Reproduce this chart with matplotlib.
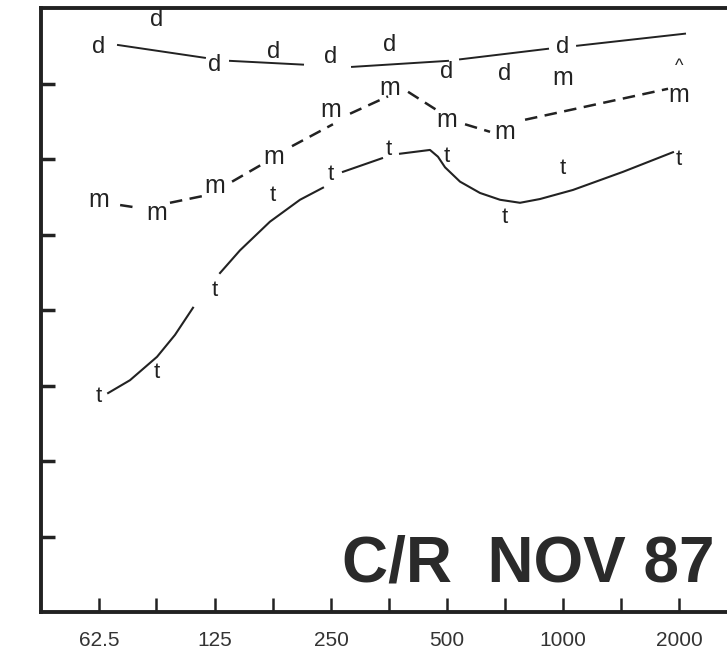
import numpy as np
import matplotlib
matplotlib.use('Agg')
import matplotlib.pyplot as plt
from matplotlib.ticker import NullFormatter

plt.rcParams['font.family'] = ['Liberation Sans', 'DejaVu Sans']

# 频率 (Hz) —— 字母标记所在的位置
freqs = [62.5, 88, 125, 177, 250, 354, 500, 707, 1000, 2000]
d_vals = [7.48, 7.84, 7.25, 7.42, 7.35, 7.51, 7.15, 7.13, 7.48]
m_vals = [5.46, 5.28, 5.64, 6.03, 6.65, 6.94, 6.52, 6.36, 7.07, 6.85]
t_vals = [2.86, 3.17, 4.26, 5.51, 5.79, 6.12, 6.03, 5.23, 5.88, 5.99]
caret_pos = (2000, 7.22)

# 手绘连线 (None 表示断开)
d_line_x = [70.0, 117.7, None, 136.7, 211.5, None, 283.4, 502.9, None, 540.4, 914.4, None, 1087.5, 2073]
d_line_y = [7.51, 7.34, None, 7.30, 7.25, None, 7.22, 7.30, None, 7.32, 7.46, None, 7.50, 7.66]

m_line_x = [70.9, 77.5, None, 95.5, 116.3, None, 138.4, 169.6, None, 198.0, 252.9, None,
            280.1, 351.4, None, 396.1, 479.6, None, 556.8, 646.6, None, 797, 1873]
m_line_y = [5.39, 5.36, None, 5.42, 5.51, None, 5.70, 5.96, None, 6.17, 6.46, None,
            6.60, 6.83, None, 6.89, 6.62, None, 6.46, 6.36, None, 6.52, 6.93]

t_line_x = [66.0, 75.2, 88.4, 98.4, 109.6, None, 128.8, 145.1, 173.6, 207.7, 238.3, None,
            268.5, 339.1, None, 377.6, 451.6, 473.7, 494.1, 540.4, 609.0, 686.3, 773.4,
            871.6, 1061, 1431, 1929]
t_line_y = [2.90, 3.07, 3.38, 3.67, 4.03, None, 4.49, 4.79, 5.17, 5.46, 5.62, None,
            5.83, 6.01, None, 6.07, 6.12, 6.03, 5.89, 5.70, 5.55, 5.46, 5.42,
            5.47, 5.59, 5.83, 6.09]

major_ticks = [62.5, 125, 250, 500, 1000, 2000]
major_labels = ['62.5', '125', '250', '500', '1000', '2000']
minor_ticks = [88, 177, 354, 707, 1414]
y_ticks = [1, 2, 3, 4, 5, 6, 7]

title = 'C/R  NOV 87'

ink = '#222222'


def to_arr(v):
    return np.array([np.nan if a is None else a for a in v], dtype=float)


fig = plt.figure(figsize=(7.27, 6.52), dpi=100)
ax = fig.add_axes([41 / 727, 40 / 652, 686 / 727, 604 / 652])
ax.set_xscale('log', base=2)
ax.set_xlim(44.19, 2664)
ax.set_ylim(0, 8)

ax.plot(to_arr(d_line_x), to_arr(d_line_y), color=ink, lw=1.4)
ax.plot(to_arr(m_line_x), to_arr(m_line_y), color=ink, lw=1.8, dashes=(5, 3))
ax.plot(to_arr(t_line_x), to_arr(t_line_y), color=ink, lw=1.5)

for f, v in zip(freqs, d_vals):
    ax.text(f, v, 'd', ha='center', va='center', fontsize=17, color=ink)
for f, v in zip(freqs, m_vals):
    ax.text(f, v, 'm', ha='center', va='center', fontsize=18, color=ink)
for f, v in zip(freqs, t_vals):
    ax.text(f, v, 't', ha='center', va='center', fontsize=16, color=ink)
ax.text(caret_pos[0], caret_pos[1], '^', ha='center', va='center', fontsize=13, color=ink)

ax.text(0.982, 0.078, title, transform=ax.transAxes, ha='right', va='center',
        fontsize=46, fontweight='bold', color='#2a2a2a')

ax.set_xticks(major_ticks)
ax.set_xticklabels(major_labels)
ax.set_xticks(minor_ticks, minor=True)
ax.xaxis.set_minor_formatter(NullFormatter())
ax.set_yticks(y_ticks)
ax.tick_params(axis='y', which='both', direction='in', length=10, width=2.5,
               labelleft=False, color=ink)
ax.tick_params(axis='x', which='both', direction='in', length=10, width=1.8,
               pad=14, labelsize=15, labelcolor='#333333', color=ink)

for side in ['left', 'top', 'bottom']:
    ax.spines[side].set_linewidth(2.8)
    ax.spines[side].set_color(ink)
ax.spines['right'].set_visible(False)

plt.savefig('out.png', dpi=100)
plt.close()
